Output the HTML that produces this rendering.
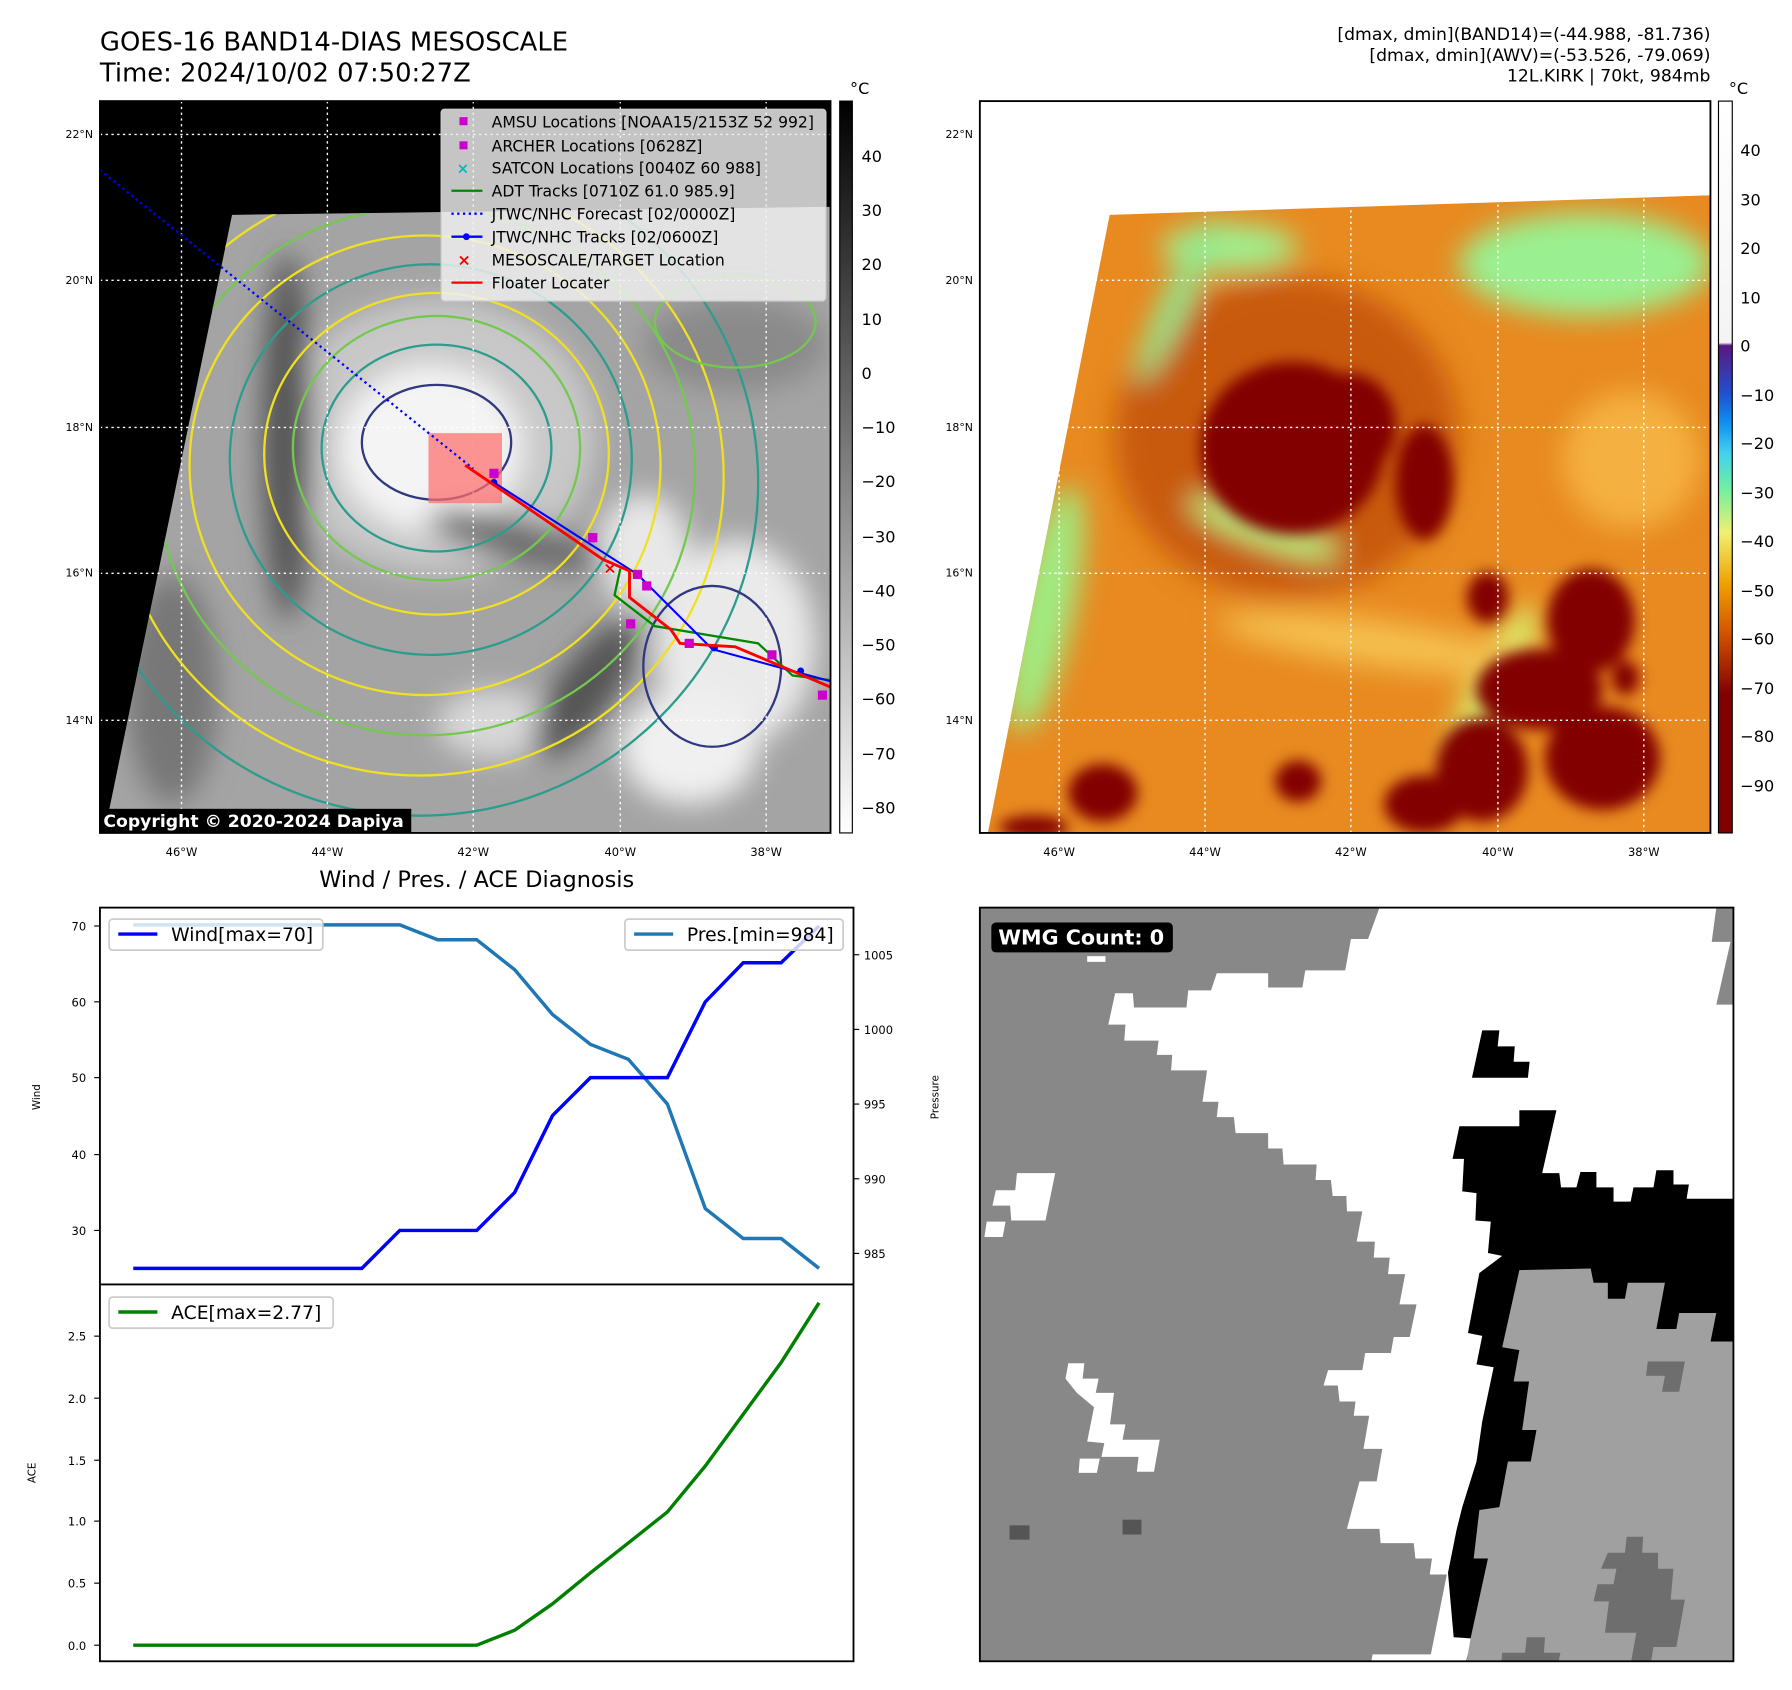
<!DOCTYPE html>
<html><head><meta charset="utf-8"><style>
html,body{margin:0;padding:0;background:#fff}
svg{display:block}
text{font-family:"DejaVu Sans","Liberation Sans",sans-serif}
</style></head><body>
<svg width="1792" height="1690" viewBox="0 0 1560 1471" preserveAspectRatio="none" xmlns="http://www.w3.org/2000/svg">
<defs>
<filter id="b6" x="-50%" y="-50%" width="200%" height="200%"><feGaussianBlur stdDeviation="6"/></filter>
<filter id="b12" x="-50%" y="-50%" width="200%" height="200%"><feGaussianBlur stdDeviation="12"/></filter>
<clipPath id="c1"><polygon points="202,187 723,180 723,725 95,725 95,705"/></clipPath>
<clipPath id="c2"><polygon points="966,187 1489,170 1489,725 860,725"/></clipPath>
<linearGradient id="gbar" x1="0" y1="0" x2="0" y2="1"><stop offset="0" stop-color="#000"/><stop offset="1" stop-color="#fff"/></linearGradient>
<linearGradient id="cbar" x1="0" y1="0" x2="0" y2="1">
<stop offset="0" stop-color="#ffffff"/><stop offset="0.33" stop-color="#f4f4f4"/><stop offset="0.334" stop-color="#5a1880"/>
<stop offset="0.40" stop-color="#2050d0"/><stop offset="0.44" stop-color="#1090f0"/><stop offset="0.48" stop-color="#40d0f0"/>
<stop offset="0.53" stop-color="#70f0a0"/><stop offset="0.59" stop-color="#f0f070"/><stop offset="0.66" stop-color="#f0a000"/>
<stop offset="0.73" stop-color="#d05000"/><stop offset="0.81" stop-color="#800000"/><stop offset="1" stop-color="#800000"/></linearGradient>
</defs>

<!-- Titles -->
<text x="87" y="44" font-size="22.5">GOES-16 BAND14-DIAS MESOSCALE</text>
<text x="87" y="71" font-size="22.5">Time: 2024/10/02 07:50:27Z</text>
<text x="1489" y="35" font-size="15" text-anchor="end">[dmax, dmin](BAND14)=(-44.988, -81.736)</text>
<text x="1489" y="53" font-size="15" text-anchor="end">[dmax, dmin](AWV)=(-53.526, -79.069)</text>
<text x="1489" y="71" font-size="15" text-anchor="end">12L.KIRK | 70kt, 984mb</text>

<!-- LEFT MAP -->
<rect x="87" y="88" width="636" height="637" fill="#000"/>
<g clip-path="url(#c1)">
<rect x="87" y="88" width="636" height="637" fill="#a4a4a4"/>
<g filter="url(#b12)">
<ellipse cx="380" cy="380" rx="140" ry="120" fill="#c8c8c8"/>
<ellipse cx="375" cy="390" rx="80" ry="72" fill="#f4f4f4"/>
<ellipse cx="560" cy="480" rx="40" ry="50" fill="#e8e8e8"/>
<ellipse cx="640" cy="560" rx="70" ry="90" fill="#eaeaea"/>
<ellipse cx="600" cy="650" rx="60" ry="50" fill="#f0f0f0"/>
<ellipse cx="430" cy="630" rx="50" ry="30" fill="#d8d8d8"/>
<ellipse cx="250" cy="380" rx="22" ry="160" fill="#555"/>
<ellipse cx="450" cy="470" rx="80" ry="18" fill="#6a6a6a" transform="rotate(15 450 470)"/>
<ellipse cx="510" cy="600" rx="25" ry="70" fill="#555" transform="rotate(35 510 600)"/>
<ellipse cx="150" cy="600" rx="40" ry="100" fill="#777"/>
<ellipse cx="640" cy="300" rx="80" ry="40" fill="#8a8a8a"/>
</g>
<g fill="none" stroke-width="2">
<ellipse cx="380" cy="390" rx="100" ry="90" stroke="#2c9c8c"/>
<ellipse cx="380" cy="390" rx="125" ry="115" stroke="#74c850"/>
<ellipse cx="380" cy="395" rx="150" ry="140" stroke="#f0e020"/>
<ellipse cx="375" cy="400" rx="175" ry="170" stroke="#2c9c8c"/>
<ellipse cx="370" cy="405" rx="205" ry="200" stroke="#f0e020"/>
<ellipse cx="370" cy="410" rx="235" ry="230" stroke="#74c850"/>
<ellipse cx="365" cy="415" rx="265" ry="260" stroke="#f0e020"/>
<ellipse cx="365" cy="420" rx="295" ry="290" stroke="#2c9c8c"/>
<ellipse cx="380" cy="385" rx="65" ry="50" stroke="#303880"/>
<ellipse cx="620" cy="580" rx="60" ry="70" stroke="#303880"/>
<ellipse cx="640" cy="280" rx="70" ry="40" stroke="#74c850"/>
</g>
</g>
<g stroke="#fff" stroke-width="1.2" stroke-dasharray="2,3">
<line x1="158" y1="88" x2="158" y2="725"/><line x1="285" y1="88" x2="285" y2="725"/><line x1="412" y1="88" x2="412" y2="725"/><line x1="540" y1="88" x2="540" y2="725"/><line x1="667" y1="88" x2="667" y2="725"/>
<line x1="87" y1="117" x2="723" y2="117"/><line x1="87" y1="244" x2="723" y2="244"/><line x1="87" y1="372" x2="723" y2="372"/><line x1="87" y1="499" x2="723" y2="499"/><line x1="87" y1="627" x2="723" y2="627"/>
</g>
<rect x="373" y="377" width="64" height="61" fill="rgba(255,110,110,0.72)"/>
<polyline points="87,148 412,408" fill="none" stroke="#00f" stroke-width="2" stroke-dasharray="2,3"/>
<polyline points="540,495 535,518 570,545 660,560 690,588 723,592" fill="none" stroke="#080" stroke-width="2"/>
<polyline points="430,420 555,500 620,565 723,593" fill="none" stroke="#00f" stroke-width="1.8"/>
<g fill="#00f"><circle cx="430" cy="420" r="3"/><circle cx="555" cy="500" r="3"/><circle cx="622" cy="564" r="3"/><circle cx="697" cy="584" r="3"/></g>
<polyline points="405,405 525,487 548,497 548,520 584,548 592,560 640,563 723,598" fill="none" stroke="#f00" stroke-width="2.5"/>
<g fill="#c0c"><rect x="426" y="408" width="8" height="8"/><rect x="512" y="464" width="8" height="8"/><rect x="551" y="496" width="8" height="8"/><rect x="559" y="506" width="8" height="8"/><rect x="545" y="539" width="8" height="8"/><rect x="596" y="556" width="8" height="8"/><rect x="668" y="566" width="8" height="8"/><rect x="712" y="601" width="8" height="8"/></g>
<text x="531" y="499" font-size="14" fill="#f00" text-anchor="middle" font-weight="bold">×</text>
<rect x="87" y="88" width="636" height="637" fill="none" stroke="#000" stroke-width="1.6"/>
<!-- legend -->
<rect x="384" y="95" width="335" height="167" rx="3" fill="rgba(240,240,240,0.82)" stroke="#ccc"/>
<g font-size="13.6">
<rect x="400" y="102" width="7" height="7" fill="#c0c"/><text x="428" y="111">AMSU Locations [NOAA15/2153Z 52 992]</text>
<rect x="400" y="123" width="7" height="7" fill="#c0c"/><text x="428" y="132">ARCHER Locations [0628Z]</text>
<text x="403" y="151" fill="#0bb" font-size="13" text-anchor="middle" font-weight="bold">×</text><text x="428" y="151">SATCON Locations [0040Z 60 988]</text>
<line x1="393" y1="166" x2="420" y2="166" stroke="#080" stroke-width="2"/><text x="428" y="171">ADT Tracks [0710Z 61.0 985.9]</text>
<line x1="393" y1="186" x2="420" y2="186" stroke="#00f" stroke-width="2" stroke-dasharray="2,3"/><text x="428" y="191">JTWC/NHC Forecast [02/0000Z]</text>
<line x1="393" y1="206" x2="420" y2="206" stroke="#00f" stroke-width="2"/><circle cx="406" cy="206" r="3" fill="#00f"/><text x="428" y="211">JTWC/NHC Tracks [02/0600Z]</text>
<text x="404" y="231" fill="#f00" font-size="14" text-anchor="middle" font-weight="bold">×</text><text x="428" y="231">MESOSCALE/TARGET Location</text>
<line x1="393" y1="246" x2="420" y2="246" stroke="#f00" stroke-width="2"/><text x="428" y="251">Floater Locater</text>
</g>
<rect x="87" y="704" width="271" height="21" fill="#000"/>
<text x="90" y="720" font-size="15" fill="#fff" font-weight="bold">Copyright © 2020-2024 Dapiya</text>
<!-- colorbar 1 -->
<rect x="731" y="88" width="11" height="637" fill="url(#gbar)" stroke="#000" stroke-width="1"/>
<text x="740" y="82" font-size="14">°C</text>
<g font-size="14">
<text x="750" y="141">40</text><text x="750" y="188">30</text><text x="750" y="235">20</text><text x="750" y="283">10</text><text x="750" y="330">0</text>
<text x="750" y="377">−10</text><text x="750" y="424">−20</text><text x="750" y="472">−30</text><text x="750" y="519">−40</text><text x="750" y="566">−50</text><text x="750" y="613">−60</text><text x="750" y="661">−70</text><text x="750" y="708">−80</text>
</g>
<g font-size="9.5" text-anchor="end">
<text x="81" y="120">22°N</text><text x="81" y="247">20°N</text><text x="81" y="375">18°N</text><text x="81" y="502">16°N</text><text x="81" y="630">14°N</text>
<text x="847" y="120">22°N</text><text x="847" y="247">20°N</text><text x="847" y="375">18°N</text><text x="847" y="502">16°N</text><text x="847" y="630">14°N</text>
</g>
<g font-size="10" text-anchor="middle">
<text x="158" y="745">46°W</text><text x="285" y="745">44°W</text><text x="412" y="745">42°W</text><text x="540" y="745">40°W</text><text x="667" y="745">38°W</text>
<text x="922" y="745">46°W</text><text x="1049" y="745">44°W</text><text x="1176" y="745">42°W</text><text x="1304" y="745">40°W</text><text x="1431" y="745">38°W</text>
</g>

<!-- RIGHT MAP -->
<rect x="853" y="88" width="636" height="637" fill="#fff"/>
<g clip-path="url(#c2)">
<rect x="853" y="88" width="636" height="637" fill="#e88a20"/>
<g filter="url(#b12)">
<ellipse cx="1120" cy="380" rx="150" ry="140" fill="#c85a08"/>
<ellipse cx="1380" cy="230" rx="110" ry="45" fill="#9af090"/>
<ellipse cx="1070" cy="215" rx="60" ry="20" fill="#a0f090"/>
<ellipse cx="910" cy="530" rx="25" ry="110" fill="#a0ea80" transform="rotate(12 910 530)"/>
<ellipse cx="1025" cy="260" rx="12" ry="80" fill="#90e890" transform="rotate(25 1025 260)"/>
<ellipse cx="1300" cy="600" rx="20" ry="80" fill="#d8f070" transform="rotate(25 1300 600)"/>
<ellipse cx="1100" cy="460" rx="70" ry="14" fill="#b8f080" transform="rotate(20 1100 460)"/>
<ellipse cx="1200" cy="560" rx="140" ry="20" fill="#f4c050" transform="rotate(8 1200 560)"/>
<ellipse cx="1420" cy="400" rx="60" ry="60" fill="#f4b040"/>
</g>
<g filter="url(#b6)" fill="#820000">
<ellipse cx="1125" cy="390" rx="80" ry="75"/>
<ellipse cx="1175" cy="370" rx="40" ry="45"/>
<ellipse cx="1240" cy="420" rx="25" ry="50"/>
<ellipse cx="1295" cy="520" rx="18" ry="22"/>
<ellipse cx="1385" cy="540" rx="38" ry="45"/>
<ellipse cx="1340" cy="600" rx="55" ry="35"/>
<ellipse cx="1395" cy="660" rx="50" ry="45"/>
<ellipse cx="1290" cy="670" rx="40" ry="45"/>
<ellipse cx="1240" cy="700" rx="35" ry="25"/>
<ellipse cx="1415" cy="590" rx="12" ry="15"/>
<ellipse cx="960" cy="690" rx="30" ry="25"/>
<ellipse cx="1130" cy="680" rx="20" ry="18"/>
<ellipse cx="900" cy="720" rx="30" ry="10"/>
</g>
</g>
<g stroke="#fff" stroke-width="1.2" stroke-dasharray="2,3">
<line x1="922" y1="88" x2="922" y2="725"/><line x1="1049" y1="88" x2="1049" y2="725"/><line x1="1176" y1="88" x2="1176" y2="725"/><line x1="1304" y1="88" x2="1304" y2="725"/><line x1="1431" y1="88" x2="1431" y2="725"/>
<line x1="853" y1="244" x2="1489" y2="244"/><line x1="853" y1="372" x2="1489" y2="372"/><line x1="853" y1="499" x2="1489" y2="499"/><line x1="853" y1="627" x2="1489" y2="627"/>
</g>
<rect x="853" y="88" width="636" height="637" fill="none" stroke="#000" stroke-width="1.6"/>
<rect x="1496" y="88" width="12" height="637" fill="url(#cbar)" stroke="#000" stroke-width="1"/>
<text x="1505" y="82" font-size="14">°C</text>
<g font-size="14">
<text x="1515" y="136">40</text><text x="1515" y="179">30</text><text x="1515" y="221">20</text><text x="1515" y="264">10</text><text x="1515" y="306">0</text>
<text x="1515" y="349">−10</text><text x="1515" y="391">−20</text><text x="1515" y="434">−30</text><text x="1515" y="476">−40</text><text x="1515" y="519">−50</text><text x="1515" y="561">−60</text><text x="1515" y="604">−70</text><text x="1515" y="646">−80</text><text x="1515" y="689">−90</text>
</g>

<!-- CHART -->
<text x="415" y="772" font-size="19.5" text-anchor="middle">Wind / Pres. / ACE Diagnosis</text>
<rect x="87" y="790" width="656" height="656" fill="none" stroke="#000" stroke-width="1.6"/>
<line x1="87" y1="1118" x2="743" y2="1118" stroke="#000" stroke-width="1.6"/>
<g stroke="#000" stroke-width="1">
<line x1="82" y1="806" x2="87" y2="806"/><line x1="82" y1="872" x2="87" y2="872"/><line x1="82" y1="938" x2="87" y2="938"/><line x1="82" y1="1005" x2="87" y2="1005"/><line x1="82" y1="1071" x2="87" y2="1071"/>
<line x1="743" y1="831" x2="748" y2="831"/><line x1="743" y1="896" x2="748" y2="896"/><line x1="743" y1="961" x2="748" y2="961"/><line x1="743" y1="1026" x2="748" y2="1026"/><line x1="743" y1="1091" x2="748" y2="1091"/>
<line x1="82" y1="1432" x2="87" y2="1432"/><line x1="82" y1="1378" x2="87" y2="1378"/><line x1="82" y1="1324" x2="87" y2="1324"/><line x1="82" y1="1271" x2="87" y2="1271"/><line x1="82" y1="1217" x2="87" y2="1217"/><line x1="82" y1="1163" x2="87" y2="1163"/>
</g>
<g font-size="10" text-anchor="end">
<text x="75" y="810">70</text><text x="75" y="876">60</text><text x="75" y="942">50</text><text x="75" y="1009">40</text><text x="75" y="1075">30</text>
<text x="75" y="1436">0.0</text><text x="75" y="1382">0.5</text><text x="75" y="1328">1.0</text><text x="75" y="1275">1.5</text><text x="75" y="1221">2.0</text><text x="75" y="1167">2.5</text>
</g>
<g font-size="10"><text x="752" y="835">1005</text><text x="752" y="900">1000</text><text x="752" y="965">995</text><text x="752" y="1030">990</text><text x="752" y="1095">985</text></g>
<text font-size="9" transform="translate(35,955) rotate(-90)" text-anchor="middle">Wind</text>
<text font-size="9" transform="translate(817,955) rotate(-90)" text-anchor="middle">Pressure</text>
<text font-size="9" transform="translate(31,1282) rotate(-90)" text-anchor="middle">ACE</text>
<polyline fill="none" stroke="#1f77b4" stroke-width="3" points="116,805 149,805 182,805 215,805 248,805 282,805 315,805 348,805 381,818 415,818 448,844 481,883 514,909 547,922 581,961 614,1052 647,1078 680,1078 713,1104"/>
<polyline fill="none" stroke="#00f" stroke-width="3" points="116,1104 149,1104 182,1104 215,1104 248,1104 282,1104 315,1104 348,1071 381,1071 415,1071 448,1038 481,971 514,938 547,938 581,938 614,872 647,838 680,838 713,806"/>
<polyline fill="none" stroke="#008000" stroke-width="3" points="116,1432 149,1432 182,1432 215,1432 248,1432 282,1432 315,1432 348,1432 381,1432 415,1432 448,1419 481,1396 514,1369 547,1343 581,1316 614,1276 647,1231 680,1186 713,1134"/>
<rect x="95" y="800" width="186" height="27" rx="3" fill="rgba(255,255,255,0.8)" stroke="#ccc" stroke-width="1.5"/>
<line x1="103" y1="813" x2="137" y2="813" stroke="#00f" stroke-width="3"/><text x="149" y="819" font-size="16.3">Wind[max=70]</text>
<rect x="544" y="800" width="190" height="27" rx="3" fill="rgba(255,255,255,0.8)" stroke="#ccc" stroke-width="1.5"/>
<line x1="552" y1="813" x2="586" y2="813" stroke="#1f77b4" stroke-width="3"/><text x="598" y="819" font-size="16.3">Pres.[min=984]</text>
<rect x="95" y="1129" width="195" height="27" rx="3" fill="rgba(255,255,255,0.8)" stroke="#ccc" stroke-width="1.5"/>
<line x1="103" y1="1142" x2="137" y2="1142" stroke="#008000" stroke-width="3"/><text x="149" y="1148" font-size="16.3">ACE[max=2.77]</text>

<!-- WMG -->
<svg x="853" y="790" width="656" height="656" viewBox="130 100 1320 1320" preserveAspectRatio="none" overflow="hidden">
<rect x="130" y="100" width="1320" height="1400" fill="#888"/>
<polygon fill="#fff" points="830,100 1420,100 1412,160 1445,160 1420,270 1450,270 1450,620 1100,620 1100,1500 800,1500 818,1408 920,1408 948,1268 918,1268 922,1240 893,1240 890,1213 832,1213 830,1188 773,1188 795,1105 825,1105 835,1048 802,1048 812,990 785,990 788,965 760,965 757,937 732,937 740,910 800,910 805,880 850,880 855,852 883,852 895,795 865,795 875,742 845,742 848,713 820,713 822,685 790,685 800,632 773,632 772,605 748,605 745,577 718,577 720,550 662,550 660,522 635,522 635,495 578,495 575,467 545,467 548,440 520,440 528,385 465,385 467,358 440,358 443,333 383,333 385,305 355,305 367,250 398,250 400,275 492,275 495,245 535,245 545,215 635,215 635,240 695,240 700,210 770,210 780,155 810,155"/>
<polygon fill="#000" points="958,540 970,483 1075,483 1075,455 1140,455 1115,565 1145,565 1148,590 1175,590 1182,563 1210,563 1210,590 1240,590 1240,615 1270,615 1275,590 1310,590 1315,560 1345,560 1345,585 1372,585 1368,610 1450,610 1450,1500 965,1500 978,1435 992,1380 960,1378 950,1265 965,1190 975,1150 1000,1070 1010,1000 1030,905 1000,900 1010,850 985,845 1005,740 1045,710 1020,705 1025,650 998,648 1000,600 975,597 978,540"/>
<polygon fill="#a0a0a0" points="1075,735 1200,732 1205,757 1230,757 1230,785 1260,785 1265,757 1330,757 1315,838 1350,838 1355,810 1420,810 1410,860 1450,860 1450,1500 1005,1500 1000,1435 980,1435 990,1378 1020,1240 995,1240 1005,1155 1040,1150 1055,1070 1095,1070 1105,1015 1080,1015 1092,930 1065,930 1075,875 1045,870"/>
<polygon fill="#000" points="1010,315 1040,315 1037,343 1067,343 1065,370 1093,370 1090,398 992,398"/>
<g fill="#6e6e6e">
<polygon points="1300,895 1365,895 1355,948 1325,948 1330,920 1297,920"/>
<polygon points="1218,1258 1230,1230 1260,1230 1263,1202 1292,1202 1290,1230 1318,1230 1318,1258 1345,1258 1340,1312 1365,1312 1350,1395 1310,1395 1305,1425 1270,1425 1280,1370 1225,1370 1232,1315 1205,1315 1212,1285 1240,1285 1245,1258"/>
<polygon points="1045,1405 1085,1405 1088,1378 1120,1378 1118,1405 1147,1405 1130,1485 1065,1485 1068,1458 1040,1458"/>
<polygon points="1365,1450 1400,1450 1398,1478 1425,1478 1420,1500 1325,1500 1330,1478 1360,1478"/>
</g>
<g fill="#555"><rect x="182" y="1182" width="35" height="25"/><rect x="380" y="1172" width="33" height="26"/></g>
<g fill="#fff">
<polygon points="195,565 262,565 245,648 185,648 183,622 152,622 158,595 192,595"/>
<polygon points="142,650 175,650 170,677 138,677"/>
<polygon points="285,898 313,898 310,925 338,925 333,950 365,950 358,1005 385,1005 380,1032 445,1032 435,1088 405,1088 408,1062 343,1062 348,1038 318,1035 330,975 300,950 280,925"/>
<polygon points="305,1065 340,1065 335,1090 303,1090"/>
<rect x="318" y="185" width="32" height="10"/>
<rect x="133" y="1486" width="145" height="14"/>
</g>
</svg>
<rect x="853" y="790" width="656" height="656" fill="none" stroke="#000" stroke-width="1.6"/>
<rect x="863" y="803" width="158" height="26" rx="4" fill="#000"/>
<text x="869" y="822" font-size="18" fill="#fff" font-weight="bold">WMG Count: 0</text>
</svg>
</body></html>
